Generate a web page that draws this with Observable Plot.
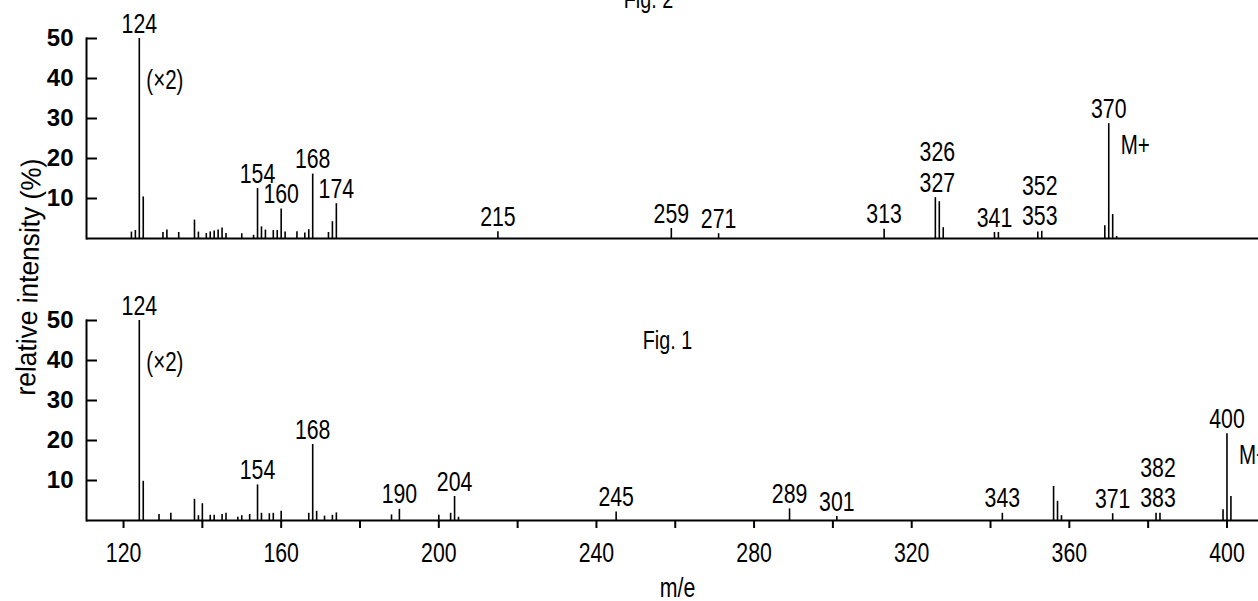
<!DOCTYPE html>
<html>
<head>
<meta charset="utf-8">
<script src="https://cdn.jsdelivr.net/npm/d3@7"></script>
<script src="https://cdn.jsdelivr.net/npm/@observablehq/plot@0.6"></script>
<style>
  html, body { margin: 0; padding: 0; background: #fff; overflow: hidden; }
  #wrap { position: relative; width: 1258px; height: 601px; overflow: hidden; }
  #ylabel {
    position: absolute; left: -121px; top: 263px; width: 300px; height: 28px;
    line-height: 28px; text-align: center; font-size: 28px; color: #000;
    font-family: "Liberation Sans", Arial, sans-serif;
    transform: rotate(-88.5deg) scaleX(0.94); transform-origin: 50% 50%; white-space: nowrap;
  }
</style>
</head>
<body>
<div id="wrap"><div id="ylabel">relative intensity (%)</div></div>
<script>
const FONT = '"Liberation Sans", Arial, sans-serif';

// Panels (top = Fig. 2, bottom = Fig. 1)
const figures = ["Fig. 2", "Fig. 1"];

// Fig. 2 spectrum
const fig2Mz = [122,123,124,125,130,131,134,138,139,141,142,143,144,145,146,150,153,154,155,156,158,159,160,161,164,166,167,168,172,173,174,215,259,271,313,326,327,328,341,342,352,353,369,370,371,372];
const fig2Intensity = [1.6,2.0,50,10.4,1.5,2.1,1.5,4.6,1.6,1.25,1.65,1.9,2.1,2.65,1.25,1.2,0.8,12.5,2.9,2.1,2.0,2.0,7.4,1.6,1.7,1.4,2.2,16.1,1.5,4.2,8.7,1.7,2.5,1.2,2.3,10.2,9.2,2.7,1.5,1.5,1.6,1.8,3.2,28.7,6.0,0.5];
const fig2Labels = ["124","154","160","168","174","215","259","271","313","326\n327","341","352\n353","370"];

// Fig. 1 spectrum
const fig1Mz = [124,125,129,132,138,139,140,142,143,145,146,149,150,152,154,155,157,158,160,167,168,169,171,173,174,188,190,200,203,204,205,245,289,301,343,356,357,358,371,382,383,399,400,401];
const fig1Intensity = [50,9.8,1.5,1.8,5.3,1.2,4.2,1.3,1.3,1.5,1.8,0.8,1.2,1.5,8.9,1.8,1.7,1.8,2.3,1.8,19.0,2.3,1.1,1.3,1.9,1.4,2.8,1.3,1.8,6.0,0.8,2.1,2.9,1.0,1.8,8.5,4.8,1.2,1.7,1.8,1.8,2.7,21.7,6.0];
const fig1Labels = ["124","154","168","190","204","245","289","301","343","371","382\n383","400"];

// Annotations attached to peaks
const scaleNoteText = "(×2)";
const scaleNotePeak = {"Fig. 2": 124, "Fig. 1": 124};
const molecularIonText = "M+";
const molecularIonPeak = {"Fig. 2": 370, "Fig. 1": 400};

// Axis ticks
const xTicks = [120,140,160,180,200,220,240,260,280,300,320,340,360,380,400];
const xTickLabels = [120,160,200,240,280,320,360,400];
const yTicks = [10,20,30,40,50];
const xTitle = "m/e";

// Build tables
const peaks = [
  ...fig2Mz.map((mz, i) => ({fig: "Fig. 2", mz, intensity: fig2Intensity[i]})),
  ...fig1Mz.map((mz, i) => ({fig: "Fig. 1", mz, intensity: fig1Intensity[i]}))
];
function intensityOf(fig, mzs) {
  return d3.max(peaks.filter(p => p.fig === fig && mzs.includes(p.mz)), p => p.intensity);
}
function labelRows(fig, texts) {
  return texts.map(t => {
    const mzs = t.split("\n").map(Number);
    return {fig, text: t, mz: d3.mean(mzs), intensity: intensityOf(fig, mzs)};
  });
}
const labels = [...labelRows("Fig. 2", fig2Labels), ...labelRows("Fig. 1", fig1Labels)];
const scaleNotes = figures.map(fig => ({fig, mz: scaleNotePeak[fig], intensity: intensityOf(fig, [scaleNotePeak[fig]]), text: scaleNoteText}));
const ionNotes = figures.map(fig => ({fig, mz: molecularIonPeak[fig], intensity: intensityOf(fig, [molecularIonPeak[fig]]), text: molecularIonText}));

const chart = Plot.plot({
  width: 1258,
  height: 601,
  marginLeft: 86,
  marginRight: 0,
  marginTop: 38,
  marginBottom: 81,
  style: {fontFamily: FONT, background: "white", color: "black"},
  x: {domain: [110.6, 408.0], axis: null, label: null},
  y: {domain: [0, 50], axis: null, label: null},
  fy: {domain: figures, axis: null, label: null, paddingInner: 0.2908, paddingOuter: 0},
  marks: [
    Plot.ruleY([0], {strokeWidth: 2}),
    Plot.frame({anchor: "left", strokeWidth: 2}),
    Plot.axisY({ticks: yTicks, tickSize: 11, dx: 11, fill: "none", strokeWidth: 2, label: null}),
    Plot.axisY({ticks: yTicks, tickSize: 0, tickPadding: 13, fontSize: 24, fontWeight: "bold", label: null}),
    Plot.axisX({
      ticks: xTicks, tickSize: 8, tickPadding: 14, strokeWidth: 2, fontSize: 28, label: null,
      tickFormat: d => xTickLabels.includes(d) ? String(d) : ""
    }),
    Plot.ruleX(peaks, {x: "mz", y: "intensity", fy: "fig", strokeWidth: 1.6}),
    Plot.text(labels, {x: "mz", y: "intensity", fy: "fig", text: "text", lineAnchor: "bottom", dy: -6, fontSize: 28, lineHeight: 1.08}),
    Plot.text(scaleNotes, {x: "mz", y: "intensity", fy: "fig", text: "text", textAnchor: "start", lineAnchor: "middle", dx: 7, dy: 42, fontSize: 27}),
    Plot.text(ionNotes, {x: "mz", y: "intensity", fy: "fig", text: "text", textAnchor: "start", lineAnchor: "middle", dx: 12, dy: 22, fontSize: 27}),
    Plot.text([{fig: "Fig. 1"}], {fy: "fig", frameAnchor: "top", text: d => d.fig, dx: -5, dy: 20, lineAnchor: "middle", fontSize: 26}),
    Plot.text([{fig: "Fig. 2"}], {fy: "fig", frameAnchor: "top", text: d => d.fig, dx: -24, dy: -39, lineAnchor: "middle", fontSize: 26}),
    Plot.text([{fig: "Fig. 1"}], {fy: "fig", frameAnchor: "bottom", text: () => xTitle, dx: 5, dy: 68, lineAnchor: "middle", fontSize: 28})
  ]
});
document.getElementById("wrap").prepend(chart);

// Condensed lettering like the original typesetting: squeeze glyph widths (not the y tick labels).
chart.querySelectorAll("text").forEach(t => {
  const group = t.closest("g[aria-label]");
  if (group && group.getAttribute("aria-label") === "y-axis tick label") return;
  const spans = t.querySelectorAll("tspan");
  const targets = spans.length ? Array.from(spans) : [t];
  targets.forEach(el => {
    const len = el.getComputedTextLength();
    if (len > 0) {
      el.setAttribute("textLength", (len * 0.76).toFixed(1));
      el.setAttribute("lengthAdjust", "spacingAndGlyphs");
    }
  });
});
</script>
</body>
</html>
